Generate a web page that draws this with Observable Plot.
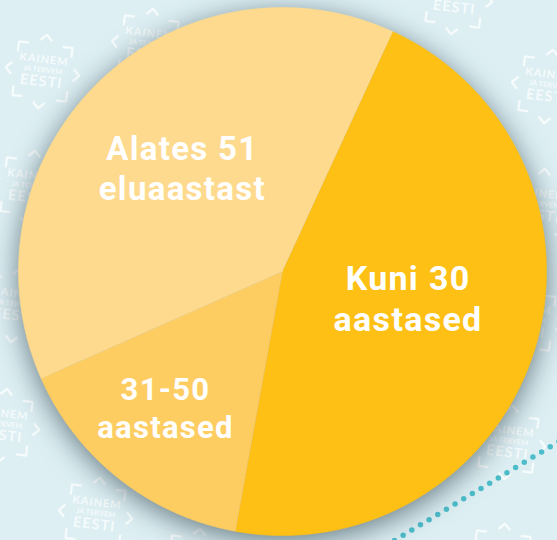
<!DOCTYPE html>
<html><head><meta charset="utf-8">
<script src="https://cdn.jsdelivr.net/npm/d3@7"></script>
<script src="https://cdn.jsdelivr.net/npm/@observablehq/plot@0.6"></script>
<style>html,body{margin:0;padding:0;background:#ddeff3;overflow:hidden}</style>
</head><body><div id="chart"></div>
<script>
// ---- data ----
const categories = ["Kuni 30\naastased", "31-50\naastased", "Alates 51\neluaastast"];
const shares = [46, 15.5, 38.5];
const sliceColors = ["#fec014", "#fecd62", "#fdda8e"];
const watermarkLines = ["KAINEM", "JA TERVEM", "EESTI"];

// ---- layout (not data) ----
const W = 557, H = 540;
const pieCenter = {x: 282, y: 271}, pieRadius = 264, startDeg = 24.7;
const labelPlacement = [{turn: -5.7, r: 0.486}, {turn: 2.7, r: 0.677}, {turn: 0.7, r: 0.547}];
const logoCenters = [[42,71],[148,45],[455,-3],[548,86],[30,187],[15,305],[2,425],[95,514],[195,565],[508,442],[500,560],[540,205],[525,320]];
const logoTilt = 7;
const dottedPath = [[394,540],[560,440]];

// ---- pie geometry via d3.pie ----
const a0 = startDeg * Math.PI / 180;
const arcs = d3.pie().sort(null).startAngle(a0).endAngle(a0 + 2 * Math.PI)(shares);
const piePts = [];
arcs.forEach((a, i) => {
  piePts.push({k: categories[i], x: pieCenter.x, y: pieCenter.y});
  const n = Math.ceil((a.endAngle - a.startAngle) / 0.005);
  for (let j = 0; j <= n; j++) {
    const t = a.startAngle + (a.endAngle - a.startAngle) * j / n;
    piePts.push({k: categories[i], x: pieCenter.x + pieRadius * Math.sin(t), y: pieCenter.y - pieRadius * Math.cos(t)});
  }
});
const labels = arcs.map((a, i) => {
  const p = labelPlacement[i];
  const t = (a.startAngle + a.endAngle) / 2 + p.turn * Math.PI / 180;
  return {text: categories[i],
    x: pieCenter.x + p.r * pieRadius * Math.sin(t), y: pieCenter.y - p.r * pieRadius * Math.cos(t)};
});

// ---- watermark logos ----
const rot = logoTilt * Math.PI / 180;
const R = (cx, cy, dx, dy) => ({x: cx + dx * Math.cos(rot) - dy * Math.sin(rot), y: cy + dx * Math.sin(rot) + dy * Math.cos(rot)});
const shapes = [
  [[-6,-31],[0,-37],[6,-31]], [[-6,31],[0,37],[6,31]], [[-31,-6],[-37,0],[-31,6]], [[31,-6],[37,0],[31,6]],
  [[-27,-17],[-27,-27],[-17,-27]], [[17,-27],[27,-27],[27,-17]], [[-27,17],[-27,27],[-17,27]], [[17,27],[27,27],[27,17]]
];
const logoPts = [];
const logoText = [[], [], []];
logoCenters.forEach(([cx, cy], li) => {
  shapes.forEach((s, si) => s.forEach(([dx, dy]) => logoPts.push({id: li * 10 + si, ...R(cx, cy, dx, dy)})));
  [[0,-12],[0,-1.5],[0,10]].forEach(([dx, dy], ti) => logoText[ti].push({t: watermarkLines[ti], ...R(cx, cy, dx, dy)}));
});

const wm = {fill: "#ffffff", fillOpacity: 0.72, rotate: logoTilt, fontFamily: "Lato", fontWeight: 700};
const lab = {x: "x", y: "y", text: "text", fill: "white", fontWeight: 700, fontFamily: "Roboto"};
const chart = Plot.plot({
  width: W, height: H, margin: 0,
  x: {domain: [0, W], range: [0, W], axis: null},
  y: {domain: [0, H], range: [0, H], axis: null},
  color: {domain: categories, range: sliceColors},
  style: {background: "#ddeff3", overflow: "hidden"},
  marks: [
    Plot.line(logoPts, {x: "x", y: "y", z: "id", stroke: "#ffffff", strokeOpacity: 0.72, strokeWidth: 2.3, strokeLinejoin: "miter", strokeLinecap: "butt"}),
    Plot.text(logoText[0], {x: "x", y: "y", text: "t", fontSize: 11, ...wm}),
    Plot.text(logoText[1], {x: "x", y: "y", text: "t", fontSize: 7.5, ...wm}),
    Plot.text(logoText[2], {x: "x", y: "y", text: "t", fontSize: 14.5, ...wm}),
    Plot.line(dottedPath, {x: d => d[0], y: d => d[1], stroke: "#4dbdca", strokeWidth: 5.5, strokeLinecap: "round", strokeDasharray: "0 10.1"}),
    Plot.line(piePts, {x: "x", y: "y", z: "k", fill: "k", stroke: "k", strokeWidth: 0.6, ariaDescription: "pie"}),
    Plot.text(labels.slice(0,1), {...lab, fontSize: 34, lineHeight: 1.2}),
    Plot.text(labels.slice(1,2), {...lab, fontSize: 31, lineHeight: 1.22}),
    Plot.text(labels.slice(2,3), {...lab, fontSize: 33, lineHeight: 1.21})
  ]
});
const pieG = chart.querySelector('[aria-description="pie"]');
if (pieG) pieG.style.filter = "drop-shadow(0px 6px 14px rgba(40,62,72,0.65))";
chart.querySelectorAll('text').forEach(t => {
  const v = t.textContent;
  if (v === "KAINEM" || v === "EESTI") t.setAttribute("letter-spacing", "1");
  if (v.includes("aastased") || v.includes("eluaastast")) t.setAttribute("letter-spacing", "1.3");
});
document.getElementById("chart").appendChild(chart);
</script>
</body></html>
